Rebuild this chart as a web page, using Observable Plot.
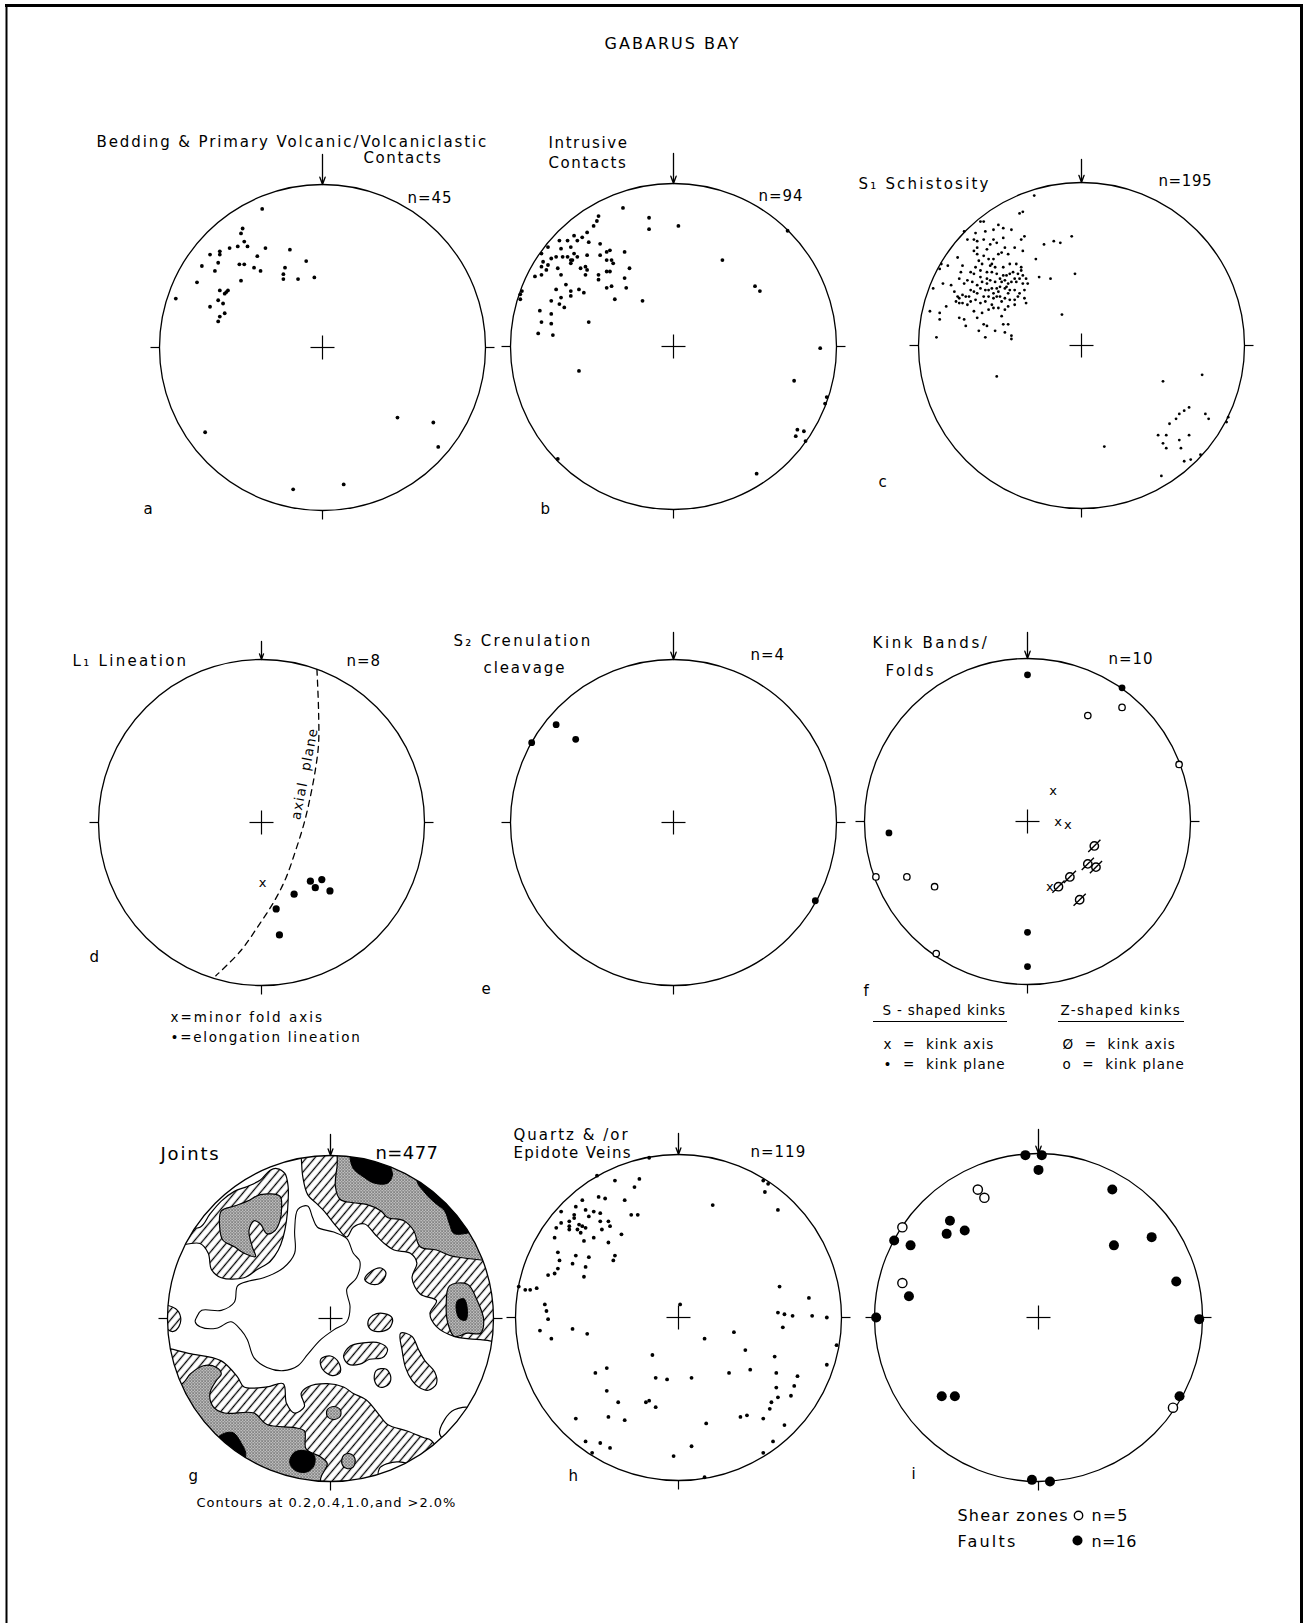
<!DOCTYPE html>
<html><head><meta charset="utf-8">
<script src="https://cdn.jsdelivr.net/npm/d3@7"></script>
<script src="https://cdn.jsdelivr.net/npm/@observablehq/plot@0.6"></script>
<style>body{margin:0;background:#fff} #chart svg{display:block}</style>
</head><body><div id="chart"></div>
<script>
// ---------- DATA (net coordinates: east/north in % of net radius) ----------
const bedding = [[-37,85],[-49,73],[-50,70],[-48,65],[-52,62],[-46,62],[-57,61],[-35,61],[-20,60],[-69,57],[-63,59],[-63,57],[-40,56],[-10,53],[-74,50],[-64,52],[-51,51],[-48,51],[-42,49],[-38,47],[-23,49],[-66,47],[-24,45],[-24,42],[-15,42],[-5,43],[-77,40],[-50,41],[-58,35],[-59,34],[-60,33],[-63,35],[-64,29],[-61,27],[-69,25],[-63,19],[-60,21],[-64,16],[-90,30],[-72,-52],[46,-43],[68,-46],[71,-61],[-18,-87],[13,-84]];

const intrusive = [[-31,85],[-15,79],[-15,72],[3,74],[-46,80],[-47,77],[-49,74],[-53,70],[-61,68],[-56,67],[-65,65],[-70,65],[-59,65],[-52,64],[-45,63],[-77,61],[-69,60],[-63,61],[-81,57],[-72,55],[-68,55],[-65,55],[-61,57],[-59,55],[-53,56],[-45,56],[-41,58],[-39,59],[-30,58],[-41,53],[-38,53],[-37,51],[-75,54],[-77,50],[-80,52],[-78,47],[-81,49],[-85,43],[-81,44],[-71,48],[-63,53],[-62,53],[-57,48],[-54,49],[-53,47],[-63,51],[-69,44],[-54,44],[-46,44],[-41,46],[-39,46],[-27,48],[-30,42],[-46,41],[-29,36],[-38,37],[-41,36],[-66,38],[-63,34],[-72,35],[-58,35],[-55,33],[-63,31],[-69,30],[-75,28],[-70,26],[-67,24],[-82,22],[-75,20],[-81,15],[-75,14],[-83,8],[-74,7],[-52,15],[-36,29],[-19,28],[-93,34],[-94,29],[-58,-15],[30,53],[50,37],[53,34],[70,71],[90,-1],[74,-21],[94,-31],[93,-35],[76,-51],[80,-52],[75,-55],[81,-58],[-71,-69],[51,-78],[-94,32]];

const schistosity = [[-29,92],[-36,82],[-38,81],[-60,76],[-62,76],[-51,74],[-48,72],[-43,71],[-72,70],[-65,69],[-59,70],[-54,71],[-37,65],[-35,67],[-70,65],[-66,65],[-64,64],[-60,65],[-54,65],[-48,66],[-52,63],[-23,62],[-17,64],[-13,63],[-6,67],[-66,58],[-58,59],[-47,60],[-41,60],[-36,58],[-28,53],[-86,50],[-82,49],[-76,54],[-73,49],[-64,56],[-63,52],[-60,55],[-57,53],[-54,53],[-51,56],[-49,57],[-45,56],[-65,48],[-61,50],[-56,49],[-55,50],[-53,48],[-40,50],[-37,48],[-87,47],[-74,45],[-68,45],[-62,46],[-58,45],[-55,45],[-52,44],[-48,43],[-46,43],[-44,44],[-42,45],[-39,44],[-37,46],[-36,43],[-34,41],[-26,42],[-19,41],[-4,44],[-91,35],[-85,38],[-80,37],[-75,41],[-72,38],[-67,39],[-64,37],[-61,39],[-58,38],[-56,40],[-53,39],[-50,41],[-49,39],[-47,40],[-45,38],[-43,39],[-41,41],[-40,39],[-38,41],[-36,38],[-33,38],[-78,33],[-76,30],[-75,29],[-73,31],[-71,30],[-69,30],[-66,33],[-64,32],[-62,35],[-59,34],[-57,34],[-55,35],[-54,32],[-51,33],[-47,35],[-45,32],[-41,34],[-38,32],[-35,34],[-83,24],[-77,27],[-75,26],[-73,26],[-70,25],[-68,27],[-65,28],[-62,26],[-59,27],[-57,30],[-54,29],[-52,30],[-49,27],[-47,29],[-44,28],[-41,28],[-39,30],[-35,29],[-34,26],[-93,21],[-87,20],[-87,16],[-75,17],[-72,16],[-71,12],[-66,21],[-64,17],[-61,20],[-57,22],[-54,23],[-51,23],[-47,22],[-45,24],[-41,25],[-60,13],[-58,12],[-49,18],[-48,13],[-45,13],[-63,9],[-59,5],[-53,9],[-47,8],[-43,6],[-43,4],[-89,5],[-12,19],[-52,-19],[14,-62],[50,-22],[74,-18],[66,-38],[63,-40],[60,-42],[58,-45],[54,-48],[76,-42],[78,-45],[47,-55],[52,-55],[50,-60],[52,-63],[60,-58],[66,-55],[61,-63],[63,-71],[67,-70],[73,-67],[49,-80],[89,-47],[90,-44],[-50,36],[-46,36],[-44,34],[-52,35],[-58,41],[-62,42],[-66,44],[-70,40],[-68,34],[-60,30],[-55,25],[-50,30],[-48,48],[-44,50],[-64,60],[-56,62]];

const elongation = [[30,-36],[37,-35],[33,-40],[42,-42],[20,-44],[9,-53],[11,-69]];
const minorFold = [[1,-37]];
const axialPlane = [[34,94],[35,69],[35,48],[33,32],[30,16],[26,-1],[21,-17],[15,-34],[8,-48],[-1,-62],[-13,-79],[-28,-94]];

const crenulation = [[-72,60],[-87,49],[-60,51],[87,-48]];

const kinkSAxis = [[16,19],[19,0],[25,-2],[14,-40]];
const kinkSPlane = [[0,90],[58,82],[-85,-7],[0,-68],[0,-89]];
const kinkZAxis = [[41,-15],[37,-26],[42,-28],[26,-34],[19,-40],[32,-48]];
const kinkZPlane = [[37,65],[58,70],[93,35],[-93,-34],[-74,-34],[-57,-40],[-56,-81]];

// Joints contour regions (0.4–1.0 % hatched, 1.0–2.0 % stippled, >2.0 % black)
const jointsHatch = [
  [[-20,115],[-18,99],[-17,87],[-14,76],[-8,70],[-4,66],[4,56],[10,50],[14,56],[21,58],[27,52],[33,46],[39,42],[49,40],[53,34],[50,25],[55,15],[65,11],[61,3],[65,-5],[76,-11],[92,-13],[115,-12],[115,115]],
  [[-100,55],[-80,56],[-74,64],[-67,72],[-59,78],[-51,81],[-43,85],[-37,91],[-33,92],[-28,89],[-26,81],[-26,72],[-27,60],[-29,50],[-32,42],[-37,35],[-45,30],[-53,25],[-67,25],[-73,30],[-75,40],[-80,46],[-100,45]],
  [[-115,-20],[-84,-22],[-67,-26],[-57,-36],[-53,-42],[-39,-42],[-29,-40],[-27,-52],[-22,-58],[-16,-54],[-18,-46],[-14,-42],[-2,-40],[8,-42],[14,-46],[22,-50],[29,-58],[35,-65],[47,-69],[57,-73],[62,-75],[75,-110],[-115,-115]],
  [[-104,8],[-95,6],[-92,1],[-93,-5],[-97,-8],[-106,0]],
  [[21,24],[25,29],[31,31],[34,28],[31,22],[25,21]],
  [[23,-2],[26,2],[33,3],[38,0],[36,-6],[29,-8],[24,-6]],
  [[8,-23],[12,-17],[20,-15],[30,-15],[35,-19],[32,-24],[24,-25],[18,-28],[11,-28]],
  [[-6,-25],[0,-23],[5,-27],[6,-33],[1,-35],[-5,-31]],
  [[28,-32],[34,-31],[37,-36],[35,-41],[30,-42],[27,-38]],
  [[43,-9],[50,-11],[54,-19],[58,-26],[64,-33],[65,-40],[60,-44],[54,-42],[50,-38],[46,-30],[44,-20]]
];
const jointsStipple = [
  [[8,115],[4,93],[3,81],[6,73],[14,71],[22,70],[31,66],[35,62],[45,60],[51,54],[55,44],[65,42],[76,38],[110,40],[110,115]],
  [[-67,66],[-59,69],[-51,72],[-43,76],[-31,75],[-30,68],[-31,60],[-34,54],[-39,52],[-43,58],[-47,60],[-50,54],[-48,44],[-46,38],[-53,40],[-59,44],[-66,48],[-68,56]],
  [[73,20],[84,21],[90,11],[94,-1],[92,-9],[84,-9],[76,-11],[72,-3],[71,9]],
  [[-110,-45],[-91,-40],[-86,-34],[-78,-29],[-70,-30],[-67,-34],[-70,-38],[-74,-46],[-72,-54],[-65,-58],[-47,-58],[-39,-65],[-22,-67],[-16,-69],[-15,-80],[-6,-85],[-2,-89],[-6,-98],[-6,-115],[-110,-115]],
  [[-2,-56],[2,-54],[6,-56],[6,-60],[2,-62],[-2,-60]],
  [[8,-84],[12,-83],[15,-86],[14,-91],[10,-92],[7,-89]]
];
const jointsBlack = [
  [[12,100],[14,92],[20,87],[27,83],[35,83],[38,88],[36,95],[30,110],[15,110]],
  [[53,85],[58,77],[64,71],[70,66],[73,58],[76,52],[95,58],[80,80],[60,95]],
  [[78,11],[82,12],[84,5],[83,-1],[79,0],[77,7]],
  [[-68,-72],[-60,-70],[-55,-76],[-52,-84],[-60,-95],[-75,-85]],
  [[-25,-87],[-22,-82],[-16,-81],[-10,-84],[-10,-90],[-14,-94],[-20,-94],[-24,-91]]
];
const jointsLow = [
  [[67,-71],[70,-62],[76,-56],[85,-55],[80,-70],[72,-75]],
  [[30,-92],[35,-89],[42,-88],[48,-90],[40,-100],[30,-100]]
];
const jointsCore = [[-82,1],[-79,5],[-67,5],[-59,10],[-57,20],[-50,23],[-41,25],[-29,31],[-22,40],[-22,54],[-20,67],[-14,69],[-11,62],[-8,56],[2,53],[10,49],[14,40],[18,35],[16,25],[10,18],[12,7],[10,-2],[2,-7],[-6,-13],[-14,-22],[-20,-29],[-29,-32],[-39,-30],[-47,-24],[-51,-13],[-55,-7],[-61,-2],[-70,-6],[-80,-5],[-83,-2]];

const veins = [[-18,98],[-50,87],[-39,84],[-24,85],[-27,80],[-49,74],[-45,73],[-33,72],[-59,72],[-63,68],[-57,66],[-52,65],[-72,65],[-48,64],[-29,63],[-25,63],[-64,63],[-55,62],[-75,55],[-72,58],[-67,59],[-64,61],[-67,56],[-61,57],[-59,56],[-57,55],[-48,59],[-43,59],[-67,54],[-62,54],[-60,52],[-47,54],[-42,56],[-76,49],[-52,49],[-58,47],[-43,46],[-35,51],[-74,40],[-63,38],[-55,37],[-39,38],[-40,35],[-73,35],[-65,33],[-57,31],[-74,30],[-58,25],[-76,27],[-80,26],[-87,18],[-91,17],[-94,17],[-98,19],[-82,8],[-81,4],[-80,-1],[-85,-8],[-78,-13],[-65,-7],[-56,-10],[21,69],[52,84],[55,82],[53,77],[61,66],[62,19],[80,12],[61,3],[65,2],[70,1],[82,1],[91,0],[64,-6],[97,-17],[91,-29],[34,-9],[16,-13],[41,-20],[59,-24],[44,-32],[31,-34],[60,-34],[73,-36],[71,-42],[60,-43],[69,-48],[61,-49],[57,-52],[56,-56],[38,-61],[42,-60],[52,-62],[65,-66],[58,-76],[52,-83],[17,-65],[8,-79],[-3,-85],[16,-98],[8,-37],[-7,-38],[-14,-37],[-16,-23],[-18,-51],[-20,-52],[-14,-55],[-37,-52],[-44,-31],[-51,-34],[-44,-45],[-43,-61],[-33,-63],[-63,-62],[-57,-76],[-48,-77],[-42,-80],[-53,-83],[1,8]];

const faults = [[-8,99],[2,99],[0,90],[45,78],[-54,59],[-45,53],[-56,51],[-88,47],[-78,44],[46,44],[69,49],[84,22],[-79,13],[-99,0],[98,-1],[-59,-48],[-51,-48],[86,-48],[-4,-99],[7,-100]];
const shearZones = [[-37,78],[-33,73],[-83,55],[-83,21],[82,-55]];

// text
const figTitle = "GABARUS BAY";
const panelTitles = ["Bedding & Primary Volcanic/Volcaniclastic","Contacts","Intrusive","Contacts","S₁ Schistosity","L₁ Lineation","S₂ Crenulation","cleavage","Kink Bands/","Folds","Quartz & /or","Epidote Veins"];
const nLabels = ["n=45","n=94","n=195","n=8","n=4","n=10","n=119"];
const panelLetters = ["a","b","c","d","e","f","g","h","i"];
const legendTexts = ["x=minor fold axis","•=elongation lineation","S - shaped kinks","Z-shaped kinks","x  =  kink axis","•  =  kink plane","Ø  =  kink axis","o  =  kink plane"];
const legendI = ["Shear zones","n=5","Faults","n=16"];
const captionText = "Contours at 0.2,0.4,1.0,and >2.0%";
const jointsTitle = ["Joints","n=477"];
const axialLabel = ["axial  plane"];

// ---------- LAYOUT ----------
const P = {
  a:{cx:322,cy:347,R:163,arrow:30}, b:{cx:673,cy:346,R:163,arrow:30}, c:{cx:1081,cy:345,R:163,arrow:23},
  d:{cx:261,cy:822,R:163,arrow:18}, e:{cx:673,cy:822,R:163,arrow:27}, f:{cx:1027,cy:821,R:163,arrow:26},
  g:{cx:330,cy:1318,R:163,arrow:21}, h:{cx:678,cy:1317,R:163,arrow:21}, i:{cx:1038,cy:1317,R:164,arrow:24}
};
const nets = Object.values(P);
const titlePos = [[96,146],[363,162],[548,147],[548,167],[858,188],[72,665],[453,645],[483,672],[872,647],[885,675],[513,1139],[513,1157]];
const nPos = [[407,202],[758,200],[1158,185],[346,665],[750,659],[1108,663],[750,1156]];
const letterPos = [[143,513],[540,513],[878,486],[89,961],[481,993],[863,995],[188,1480],[568,1480],[911,1478]];
const legendPos = [[170,1021],[170,1041],[882,1014],[1060,1014],[883,1048],[883,1068],[1062,1048],[1062,1068]];
const legendIPos = [[957,1520],[1091,1520],[957,1546],[1091,1546]];
const jointsTitlePos = [[160,1159],[375,1158]];
const axialPos = [[26.5, 30]]; // net units, panel d
const spacing = new Map([
  ["GABARUS BAY", 2], ["Bedding & Primary Volcanic/Volcaniclastic", 1.9], ["Contacts", 1.6], ["Intrusive", 1.6],
  ["S₁ Schistosity", 2.2], ["L₁ Lineation", 2.3], ["S₂ Crenulation", 2.3], ["cleavage", 1.9], ["Kink Bands/", 2.6],
  ["Folds", 2.3], ["Quartz & /or", 2], ["Epidote Veins", 1.3], ["Joints", 1.8], ["n=477", 0.4],
  ["x=minor fold axis", 2], ["•=elongation lineation", 1.7], ["S - shaped kinks", 0.8], ["Z-shaped kinks", 1.3],
  ["Shear zones", 1.2], ["Faults", 2.2], ["n=5", 1.1], ["n=16", 0.3], ["n=195", 0.6], ["axial  plane", 1.3]
]);

const X = k => d => P[k].cx + d[0] * P[k].R / 100;
const Y = k => d => P[k].cy - d[1] * P[k].R / 100;
const RX = k => d => P[k].cx + d.u * P[k].R / 100;
const RY = k => d => P[k].cy - d.v * P[k].R / 100;
const rows = polys => polys.flatMap((poly, id) => poly.map(([u, v]) => ({id, u, v})));
const lab = (texts, pos) => texts.map((t, i) => ({t, x: pos[i][0], y: pos[i][1]}));

const slashO = {draw(ctx, size) {
  const r = Math.sqrt(size / Math.PI);
  ctx.moveTo(r, 0); ctx.arc(0, 0, r, 0, 2 * Math.PI);
  ctx.moveTo(-1.45 * r, 1.45 * r); ctx.lineTo(1.45 * r, -1.45 * r);
}};

const txt = (data, opts) => Plot.text(data, {x: "x", y: "y", text: "t", textAnchor: "start", lineAnchor: "bottom", fill: "black", ...opts});

const svg = Plot.plot({
  width: 1311, height: 1623, margin: 0,
  x: {domain: [0, 1311], range: [0, 1311], axis: null},
  y: {domain: [0, 1623], range: [0, 1623], axis: null},
  r: {type: "linear", domain: [0, 200], range: [0, 200]},
  style: {fontFamily: "DejaVu Sans, sans-serif", letterSpacing: "1px", background: "white", whiteSpace: "pre"},
  marks: [
    // outer frame (open at the bottom)
    Plot.ruleY([5], {x1: 5, x2: 1303, strokeWidth: 3}),
    Plot.ruleX([6], {y1: 5, y2: 1623, strokeWidth: 2}),
    Plot.ruleX([1301], {y1: 5, y2: 1623, strokeWidth: 3}),

    // joints contours (panel g)
    Plot.line(rows(jointsHatch), {x: RX("g"), y: RY("g"), z: "id", curve: "catmull-rom-closed", fill: "url(#hatch)", stroke: "black", strokeWidth: 1.2}),
    Plot.line(rows(jointsStipple), {x: RX("g"), y: RY("g"), z: "id", curve: "catmull-rom-closed", fill: "url(#stipple)", stroke: "black", strokeWidth: 1.2}),
    Plot.line(rows(jointsBlack), {x: RX("g"), y: RY("g"), z: "id", curve: "catmull-rom-closed", fill: "#000001", stroke: "black", strokeWidth: 1}),
    Plot.line(rows(jointsLow), {x: RX("g"), y: RY("g"), z: "id", curve: "catmull-rom-closed", fill: "#fffffe", stroke: "black", strokeWidth: 1.2}),
    Plot.line(jointsCore, {x: X("g"), y: Y("g"), curve: "catmull-rom-closed", fill: "none", stroke: "black", strokeWidth: 1.1}),

    // nets
    Plot.dot(nets, {x: "cx", y: "cy", r: "R", fill: "none", stroke: "black", strokeWidth: 1.3}),
    Plot.link(nets, {x1: n => n.cx - n.R - 9, x2: n => n.cx - n.R, y1: "cy", y2: "cy", stroke: "black", strokeWidth: 1.2}),
    Plot.link(nets, {x1: n => n.cx + n.R, x2: n => n.cx + n.R + 9, y1: "cy", y2: "cy", stroke: "black", strokeWidth: 1.2}),
    Plot.link(nets, {x1: "cx", x2: "cx", y1: n => n.cy + n.R, y2: n => n.cy + n.R + 9, stroke: "black", strokeWidth: 1.2}),
    Plot.link(nets, {x1: n => n.cx - 12, x2: n => n.cx + 12, y1: "cy", y2: "cy", stroke: "black", strokeWidth: 1.2}),
    Plot.link(nets, {x1: "cx", x2: "cx", y1: n => n.cy - 12, y2: n => n.cy + 12, stroke: "black", strokeWidth: 1.2}),
    Plot.arrow(nets, {x1: "cx", x2: "cx", y1: n => n.cy - n.R - n.arrow, y2: n => n.cy - n.R, headLength: 9, headAngle: 40, stroke: "black", strokeWidth: 1.3}),

    // a, b, c, h point plots
    Plot.dot(bedding, {x: X("a"), y: Y("a"), r: 1.9, fill: "black"}),
    Plot.dot(intrusive, {x: X("b"), y: Y("b"), r: 1.9, fill: "black"}),
    Plot.dot(schistosity, {x: X("c"), y: Y("c"), r: 1.4, fill: "black"}),
    Plot.dot(veins, {x: X("h"), y: Y("h"), r: 1.9, fill: "black"}),

    // d lineation
    Plot.line(axialPlane, {x: X("d"), y: Y("d"), curve: "catmull-rom", stroke: "black", strokeWidth: 1.3, strokeDasharray: "6,5"}),
    Plot.text(axialPos, {x: X("d"), y: Y("d"), text: () => axialLabel[0], rotate: -79, fontSize: 13.5}),
    Plot.dot(elongation, {x: X("d"), y: Y("d"), r: 3.6, fill: "black"}),
    Plot.text(minorFold, {x: X("d"), y: Y("d"), text: () => "x", fontSize: 13}),

    // e crenulation
    Plot.dot(crenulation, {x: X("e"), y: Y("e"), r: 3.4, fill: "black"}),

    // f kink bands
    Plot.dot(kinkSPlane, {x: X("f"), y: Y("f"), r: 3.4, fill: "black"}),
    Plot.dot(kinkZPlane, {x: X("f"), y: Y("f"), r: 3.2, fill: "white", stroke: "black", strokeWidth: 1.3}),
    Plot.text(kinkSAxis, {x: X("f"), y: Y("f"), text: () => "x", fontSize: 13}),
    Plot.dot(kinkZAxis, {x: X("f"), y: Y("f"), r: 4.2, symbol: slashO, fill: "none", stroke: "black", strokeWidth: 1.4}),

    // i faults & shear zones
    Plot.dot(faults, {x: X("i"), y: Y("i"), r: 5, fill: "black"}),
    Plot.dot(shearZones, {x: X("i"), y: Y("i"), r: 4.6, fill: "white", stroke: "black", strokeWidth: 1.4}),
    Plot.dot([{x: 1078, y: 1515}], {x: "x", y: "y", r: 4.2, fill: "white", stroke: "black", strokeWidth: 1.4}),
    Plot.dot([{x: 1077, y: 1540}], {x: "x", y: "y", r: 5, fill: "black"}),

    // legend underlines (panel f)
    Plot.ruleY([1021], {x1: 873, x2: 1007, strokeWidth: 1.2}),
    Plot.ruleY([1021], {x1: 1058, x2: 1184, strokeWidth: 1.2}),

    // texts
    txt([{t: figTitle, x: 672, y: 48}], {textAnchor: "middle", fontSize: 16}),
    txt(lab(panelTitles, titlePos), {fontSize: 15}),
    txt(lab(nLabels, nPos), {fontSize: 15}),
    txt(lab(jointsTitle, jointsTitlePos), {fontSize: 18}),
    txt(lab(panelLetters, letterPos), {fontSize: 15}),
    txt(lab(legendTexts, legendPos), {fontSize: 13.5}),
    txt(lab(legendI, legendIPos), {fontSize: 16}),
    txt([{t: captionText, x: 196, y: 1506}], {fontSize: 13})
  ]
});

// patterns & clipping for the contour panel
const defs = d3.select(svg).insert("defs", ":first-child");
const hatch = defs.append("pattern").attr("id", "hatch").attr("patternUnits", "userSpaceOnUse")
  .attr("width", 6.5).attr("height", 6.5).attr("patternTransform", "rotate(40)");
hatch.append("rect").attr("width", 6.5).attr("height", 6.5).attr("fill", "white");
hatch.append("line").attr("x1", 3.25).attr("x2", 3.25).attr("y1", -1).attr("y2", 7.5).attr("stroke", "black").attr("stroke-width", 1.3);
const stip = defs.append("pattern").attr("id", "stipple").attr("patternUnits", "userSpaceOnUse").attr("width", 3).attr("height", 3);
stip.append("rect").attr("width", 3).attr("height", 3).attr("fill", "white");
stip.append("rect").attr("width", 1.3).attr("height", 1.3).attr("fill", "black");
stip.append("rect").attr("x", 1.5).attr("y", 1.5).attr("width", 1.3).attr("height", 1.3).attr("fill", "black");
defs.append("clipPath").attr("id", "clipG").append("circle").attr("cx", P.g.cx).attr("cy", P.g.cy).attr("r", P.g.R);
d3.select(svg).selectAll('g[fill^="url("], g[fill="#000001"], g[fill="#fffffe"]').attr("clip-path", "url(#clipG)");
d3.select(svg).selectAll("text").each(function() {
  const s = spacing.get(this.textContent);
  if (s != null) this.setAttribute("letter-spacing", s + "px");
});

document.getElementById("chart").append(svg);
</script></body></html>
